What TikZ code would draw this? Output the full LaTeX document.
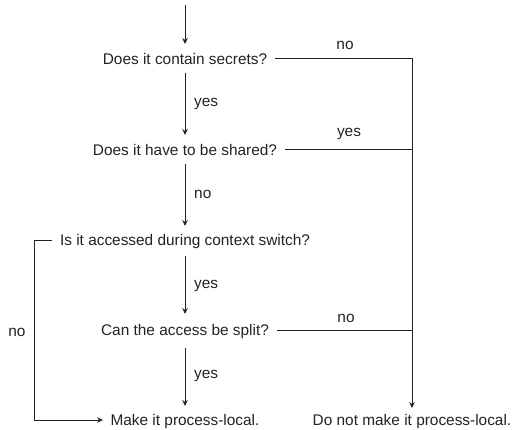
\documentclass[tikz,border=0pt]{standalone}
\usepackage{fontspec}
\setmainfont{Liberation Sans}
\usetikzlibrary{arrows.meta}
\definecolor{ink}{HTML}{222222}
\begin{document}
\begin{tikzpicture}[x=1pt,y=-1pt,
  q/.style={text=ink,font=\fontsize{15.4}{18}\selectfont,inner sep=0pt,anchor=base},
  lab/.style={text=ink,font=\fontsize{15.4}{18}\selectfont,inner sep=0pt,anchor=base},
  conn/.style={draw=ink,line width=1pt},
  arr/.style={conn,-{Stealth[length=6pt,width=5.5pt]}}]
\useasboundingbox (0,0) rectangle (514,429);
\coordinate (start) at (185,5);
\node[q] (q1) at (185,64) {Does it contain secrets?};
\node[q] (q2) at (185,155) {Does it have to be shared?};
\node[q] (q3) at (185,245) {Is it accessed during context switch?};
\node[q] (q4) at (185,335) {Can the access be split?};
\node[q] (r1) at (185,425) {Make it process-local.};
\node[q] (r2) at (412,425) {Do not make it process-local.};
% vertical arrows
\draw[arr] (start) -- (185,44);
\draw[arr] (185,73) -- (185,135);
\draw[arr] (185,164) -- (185,226);
\draw[arr] (185,256) -- (185,314);
\draw[arr] (185,348) -- (185,406);
\node[lab,anchor=base west] (y1) at (194,106) {yes};
\node[lab,anchor=base west] (n2) at (194,198) {no};
\node[lab,anchor=base west] (y3) at (194,288) {yes};
\node[lab,anchor=base west] (y4) at (194,378) {yes};
% right side
\coordinate (rtop) at (412,58);
\draw[conn] (q1.east|-rtop) ++(8,0) -- (rtop);
\draw[arr] (rtop) -- (412,408);
\draw[conn] (q2.east|-0,149) ++(8,0) -- (412,149);
\draw[conn] (q4.east|-0,330) ++(8,0) -- (412,330);
\node[lab] (n1) at (345,49) {no};
\node[lab] (y2) at (349,136) {yes};
\node[lab] (n4) at (346,322) {no};
% left side
\draw[arr] (q3.west|-0,240) ++(-8,0) -- (34,240) -- (34,420) -- (103,420);
\node[lab] (n3) at (17,336) {no};
\end{tikzpicture}
\end{document}
